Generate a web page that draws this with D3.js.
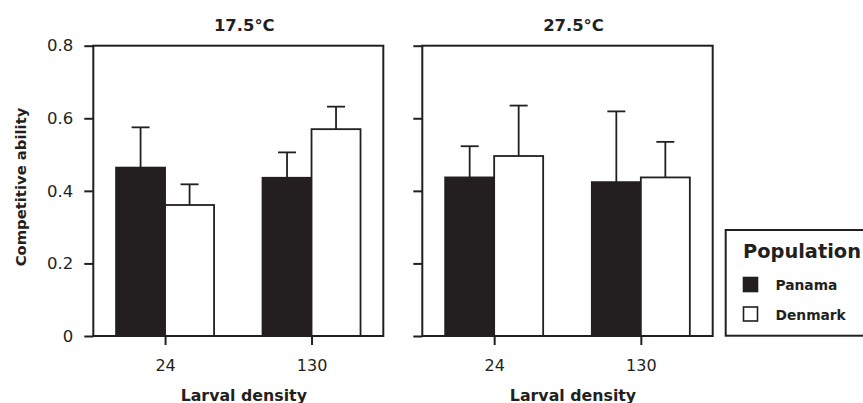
<!DOCTYPE html>
<html>
<head>
<meta charset="utf-8">
<script src="https://cdn.jsdelivr.net/npm/d3@7"></script>
<style>
  html, body { margin: 0; padding: 0; background: #fff; }
  svg { display: block; }
  text { font-family: "DejaVu Sans", "Open Sans", sans-serif; fill: #231f20; }
</style>
</head>
<body>
<svg id="chart" width="863" height="403"></svg>
<script>
// Larval density groups and temperature panels
const densities = ["24", "130"];
const temperatures = ["17.5°C", "27.5°C"];
const populations = ["Panama", "Denmark"];
const yTicks = [0, 0.2, 0.4, 0.6, 0.8];

// Mean competitive ability and upper error (per density), 17.5°C
const panamaCool = [0.464, 0.436];
const panamaCoolErr = [0.111, 0.070];
const denmarkCool = [0.361, 0.570];
const denmarkCoolErr = [0.057, 0.062];

// Mean competitive ability and upper error (per density), 27.5°C
const panamaWarm = [0.437, 0.424];
const panamaWarmErr = [0.086, 0.195];
const denmarkWarm = [0.496, 0.437];
const denmarkWarmErr = [0.139, 0.098];

const ink = "#231f20";
const fills = { Panama: ink, Denmark: "#ffffff" };

const panels = [
  { title: temperatures[0], x0: 93.3, x1: 383.3, showLabels: true,
    series: { Panama: [panamaCool, panamaCoolErr], Denmark: [denmarkCool, denmarkCoolErr] } },
  { title: temperatures[1], x0: 422.3, x1: 712.7, showLabels: false,
    series: { Panama: [panamaWarm, panamaWarmErr], Denmark: [denmarkWarm, denmarkWarmErr] } }
];

const svg = d3.select("#chart");
const yTop = 45.7, yBottom = 336;
const y = d3.scaleLinear().domain([0, 0.8]).range([yBottom, yTop]);
const barW = 49;
const capW = 18;

panels.forEach(p => {
  const g = svg.append("g");
  const x = d3.scalePoint().domain(densities).range([p.x0, p.x1]).padding(0.49);

  // bars with upward error bars
  populations.forEach((pop, pi) => {
    const [means, errs] = p.series[pop];
    densities.forEach((d, i) => {
      const left = pi === 0 ? x(d) - barW : x(d);
      const cx = left + barW / 2;
      const top = y(means[i] + errs[i]);
      g.append("line")
        .attr("x1", cx).attr("x2", cx)
        .attr("y1", y(means[i])).attr("y2", top)
        .attr("stroke", ink).attr("stroke-width", 1.8);
      g.append("line")
        .attr("x1", cx - capW / 2).attr("x2", cx + capW / 2)
        .attr("y1", top).attr("y2", top)
        .attr("stroke", ink).attr("stroke-width", 1.8);
      g.append("rect")
        .attr("x", left).attr("width", barW)
        .attr("y", y(means[i])).attr("height", y(0) - y(means[i]))
        .attr("fill", fills[pop]).attr("stroke", ink).attr("stroke-width", 1.8);
    });
  });

  // panel frame
  g.append("rect")
    .attr("x", p.x0).attr("y", yTop)
    .attr("width", p.x1 - p.x0).attr("height", yBottom - yTop)
    .attr("fill", "none").attr("stroke", ink).attr("stroke-width", 2);

  // y axis
  const yAxis = d3.axisLeft(y).tickValues(yTicks).tickSize(9).tickPadding(11)
    .tickFormat(p.showLabels ? (v => v === 0 ? "0" : d3.format(".1f")(v)) : () => "");
  const ya = g.append("g").attr("transform", `translate(${p.x0},0)`).call(yAxis);
  ya.select(".domain").remove();
  ya.selectAll(".tick line").attr("stroke", ink).attr("stroke-width", 2);
  ya.selectAll(".tick text").attr("font-size", 16.5).attr("fill", ink)
    .style("font-family", "'DejaVu Sans', sans-serif");

  // x axis
  const xAxis = d3.axisBottom(x).tickSize(9).tickPadding(15);
  const xa = g.append("g").attr("transform", `translate(0,${yBottom})`).call(xAxis);
  xa.select(".domain").remove();
  xa.selectAll(".tick line").attr("stroke", ink).attr("stroke-width", 2);
  xa.selectAll(".tick text").attr("font-size", 16).attr("fill", ink)
    .style("font-family", "'DejaVu Sans', sans-serif");

  // titles
  const cx = (p.x0 + p.x1) / 2;
  g.append("text").attr("x", cx + 6).attr("y", 30.7)
    .attr("text-anchor", "middle").attr("font-size", 16.4).attr("font-weight", "bold")
    .text(p.title);
  g.append("text").attr("x", cx + 5.5).attr("y", 400.5)
    .attr("text-anchor", "middle").attr("font-size", 15.8).attr("font-weight", "bold")
    .text("Larval density");
});

// y axis title
svg.append("text")
  .attr("transform", "translate(26,187) rotate(-90)")
  .attr("text-anchor", "middle").attr("font-size", 14.8).attr("font-weight", "bold")
  .text("Competitive ability");

// legend
const lg = svg.append("g");
lg.append("rect").attr("x", 725.7).attr("y", 230).attr("width", 200).attr("height", 105.7)
  .attr("fill", "#fff").attr("stroke", ink).attr("stroke-width", 2);
lg.append("text").attr("x", 743).attr("y", 257.5)
  .attr("font-size", 19.4).attr("font-weight", "bold").text("Population");
populations.forEach((pop, i) => {
  const yy = 277.5 + i * 29.5;
  lg.append("rect").attr("x", 743.5).attr("y", yy).attr("width", 14).attr("height", 14)
    .attr("fill", fills[pop]).attr("stroke", ink).attr("stroke-width", 1.6);
  lg.append("text").attr("x", 775.5).attr("y", yy + 12.5)
    .attr("font-size", 13.8).attr("font-weight", "bold").text(pop);
});
</script>
</body>
</html>
